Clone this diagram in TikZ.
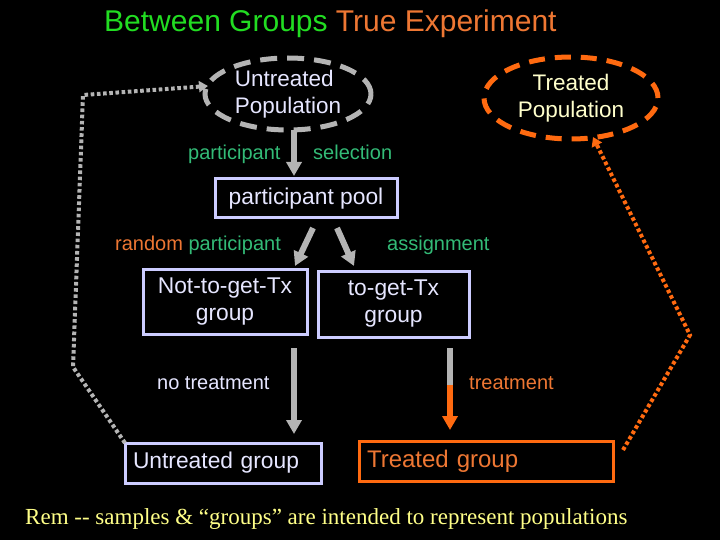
\documentclass[tikz,border=0pt]{standalone}
\usepackage{fontspec}
\setmainfont{Liberation Sans}
\newfontfamily\remfont{Liberation Serif}
\usetikzlibrary{arrows.meta,shapes.geometric,calc}
\definecolor{lav}{HTML}{CCCCFF}
\definecolor{lavtext}{HTML}{E6E6FF}
\definecolor{gry}{HTML}{B4B4B4}
\definecolor{org}{HTML}{FF6A10}
\definecolor{orgtext}{HTML}{EE7733}
\definecolor{ttlgreen}{HTML}{22DD22}
\definecolor{tgreen}{HTML}{33BB77}
\definecolor{paleyellow}{HTML}{FFFFCC}
\definecolor{remyellow}{HTML}{FFFF88}
\begin{document}
\begin{tikzpicture}[x=1pt,y=-1pt,
  box/.style={draw=lav,line width=3pt,rectangle,inner sep=0pt,outer sep=0pt,text=lavtext,
    font=\fontsize{22.8}{27}\selectfont,align=center},
  popell/.style={ellipse,line width=5pt,inner sep=0pt,outer sep=0pt,font=\fontsize{22.5}{27}\selectfont},
  bigarrow/.style={draw=gry,line width=6pt,-{Triangle[width=15pt,length=14pt]}},
  lbl/.style={anchor=base west,inner sep=0pt,font=\fontsize{20}{24}\selectfont},
  dots/.style={line width=4pt,dash pattern=on 3.6pt off 2.6pt}
]
\fill[black] (0,0) rectangle (720,540);
\useasboundingbox (0,0) rectangle (720,540);

% title
\node[anchor=base west,inner sep=0pt,font=\fontsize{30}{34}\selectfont] (title) at (104,32)
  {\textcolor{ttlgreen}{Between Groups} \textcolor{orgtext}{True Experiment}};

% populations
\node[popell,draw=gry,dash pattern=on 17pt off 10pt,minimum width=166pt,minimum height=72pt,
  text=lavtext,align=left] (upop) at (288,94) {Untreated\\Population};
\node[popell,draw=org,dash pattern=on 16pt off 10pt,minimum width=174pt,minimum height=82pt,
  text=paleyellow,align=center] (tpop) at (571,98) {Treated\\Population};

% boxes
\node[box,minimum width=182pt,minimum height=39pt] (pool) at (306,198.5) {participant pool};
\node[box,minimum width=164pt,minimum height=65pt] (ntg) at (225,301.5) {Not-to-get-Tx\\group};
\node[box,minimum width=151pt,minimum height=66pt] (tg) at (393.5,304) {to-get-Tx\\group};
\node[box,minimum width=196pt,minimum height=40pt,text width=180pt,align=left] (ug) at (223,463) {Untreated group};
\node[box,draw=org,text=orgtext,minimum width=254pt,minimum height=40pt,text width=238pt,align=left,
  font=\fontsize{24}{28}\selectfont] (trg) at (486,461) {Treated group};

% labels
\node[lbl,text=tgreen] (lpart) at (188,160) {participant};
\node[lbl,text=tgreen] (lsel) at (313,160) {selection};
\node[lbl] (lrand) at (115,250) {\textcolor{orgtext}{random} \textcolor{tgreen}{participant}};
\node[lbl,text=tgreen] (lassign) at (387,250) {assignment};
\node[lbl,text=lavtext] (lnot) at (157,389) {no treatment};
\node[lbl,text=orgtext] (ltreat) at (469,389) {treatment};

% arrows
\draw[bigarrow] ([xshift=6pt]upop.south) -- ([xshift=-12pt,yshift=3pt]pool.north);
\draw[bigarrow] ([xshift=7pt,yshift=-10pt]pool.south) -- ([xshift=-12pt,yshift=3pt]ntg.north east);
\draw[bigarrow] ([xshift=31pt,yshift=-10pt]pool.south) -- ([xshift=36pt,yshift=5pt]tg.north west);
\draw[bigarrow] ([xshift=-13pt,yshift=-14pt]ntg.south east) -- ([xshift=169pt,yshift=9pt]ug.north west);
\coordinate (tmid) at ([xshift=-19pt,yshift=-48pt]tg.south east);
\draw[draw=gry,line width=6pt] ([xshift=-19pt,yshift=-11pt]tg.south east) -- ([yshift=-1pt]tmid);
\draw[draw=org,line width=6pt,-{Triangle[width=15pt,length=14pt]}] (tmid) -- ([xshift=91pt,yshift=11pt]trg.north west);

% dotted return paths
\coordinate (lc1) at (73,367);
\coordinate (lc2) at (83,95);
\draw[dots,draw=gry,-{Triangle[width=11pt,length=9pt]}] (ug.north west) -- (lc1) -- (lc2) -- ([xshift=3pt,yshift=8pt]upop.west);
\coordinate (rc1) at (690,335);
\draw[dots,draw=org,-{Triangle[width=11pt,length=9pt]}] ([xshift=10pt,yshift=-9pt]trg.north east) -- (rc1) -- ([xshift=22pt,yshift=2pt]tpop.south);

% remark
\node[anchor=base west,inner sep=0pt,text=remyellow,font=\remfont\fontsize{23}{27}\selectfont] (rem) at (25,524)
  {Rem -- samples \& “groups” are intended to represent populations};
\end{tikzpicture}
\end{document}
